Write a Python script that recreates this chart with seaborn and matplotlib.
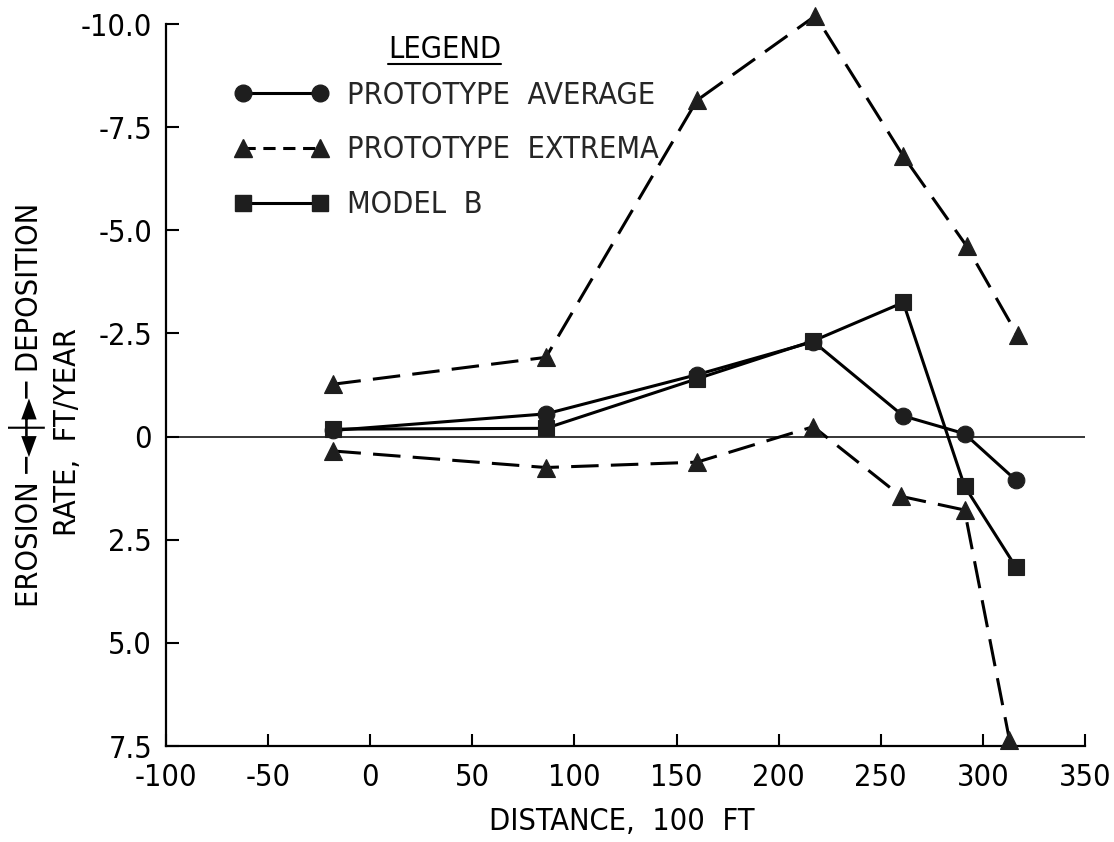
import matplotlib
matplotlib.use("Agg")
import matplotlib.pyplot as plt
from matplotlib.lines import Line2D
import seaborn as sns
import pandas as pd

# Distance along the reach (100 ft units)
distance = [-18, 86, 160, 217, 261, 291, 316]
distance_ext_hi = [-18, 86, 160, 218, 261, 292, 317]
distance_ext_lo = [-18, 86, 160, 217, 260, 291, 313]

# Rates, ft/year (negative = deposition, positive = erosion)
proto_average = [-0.15, -0.55, -1.5, -2.3, -0.5, -0.07, 1.05]
model_b = [-0.18, -0.2, -1.4, -2.32, -3.25, 1.2, 3.15]
extrema_high = [-1.27, -1.92, -8.15, -10.2, -6.8, -4.62, -2.45]
extrema_low = [0.35, 0.75, 0.62, -0.24, 1.45, 1.78, 7.35]

series_labels = ["PROTOTYPE  AVERAGE", "PROTOTYPE  EXTREMA", "MODEL  B"]

x_ticks = [-100, -50, 0, 50, 100, 150, 200, 250, 300, 350]
x_tick_labels = ["-100", "-50", "0", "50", "100", "150", "200", "250", "300", "350"]
y_ticks = [-10.0, -7.5, -5.0, -2.5, 0.0, 2.5, 5.0, 7.5]
y_tick_labels = ["-10.0", "-7.5", "-5.0", "-2.5", "0", "2.5", "5.0", "7.5"]

sns.set_theme(style="ticks")
fonts = ["DejaVu Sans", "Liberation Sans Narrow"]
plt.rcParams["font.family"] = fonts
plt.rcParams["font.stretch"] = "condensed"

INK = "black"
MARK = "#1e1e1e"
FS = 22

fig = plt.figure(figsize=(11.14, 8.42), dpi=100)
W, H = 1114, 842
ax = fig.add_axes([166 / W, 1 - 746 / H, (1085 - 166) / W, (746 - 24) / H])

ax.axhline(0, color=INK, lw=1.1, zorder=1)

def draw(xs, ys, marker, dashed):
    df = pd.DataFrame({"x": xs, "y": ys})
    kw = dict(color=INK, lw=2.2, marker=marker, markersize=12 if marker != "^" else 12.5,
              markerfacecolor=MARK, markeredgecolor=MARK, markeredgewidth=0.8,
              clip_on=False, zorder=3)
    if dashed:
        kw["dashes"] = (9, 4)
    sns.lineplot(data=df, x="x", y="y", ax=ax, sort=False, estimator=None,
                 legend=False, **kw)

draw(distance_ext_hi, extrema_high, "^", True)
draw(distance_ext_lo, extrema_low, "^", True)
draw(distance, proto_average, "o", False)
draw(distance, model_b, "s", False)

ax.set_xlim(-100, 350)
ax.set_ylim(7.5, -10.0)
ax.set_xticks(x_ticks)
ax.set_xticklabels(x_tick_labels)
ax.set_yticks(y_ticks)
ax.set_yticklabels(y_tick_labels)
ax.tick_params(axis="both", direction="in", length=9, width=1.5, color=INK,
               labelsize=FS, labelcolor=INK)
ax.tick_params(axis="x", pad=12)
ax.tick_params(axis="y", pad=10)
for lab in ax.get_xticklabels() + ax.get_yticklabels():
    lab.set_fontstretch("condensed")
for side in ("top", "right"):
    ax.spines[side].set_visible(False)
for side in ("left", "bottom"):
    ax.spines[side].set_linewidth(1.6)
    ax.spines[side].set_color(INK)
ax.set_xlabel("")
ax.set_ylabel("")

# Legend
handles = [
    Line2D([], [], color=INK, lw=2.2, marker="o", markersize=12,
           markerfacecolor=MARK, markeredgecolor=MARK),
    Line2D([], [], color=INK, lw=2.2, marker="^", markersize=12.5, dashes=(4, 2.5),
           markerfacecolor=MARK, markeredgecolor=MARK),
    Line2D([], [], color=INK, lw=2.2, marker="s", markersize=12,
           markerfacecolor=MARK, markeredgecolor=MARK),
]
ax.legend(handles, series_labels, loc="center left",
          bbox_to_anchor=(234 / W, 1 - 150 / H), bbox_transform=fig.transFigure,
          frameon=False, numpoints=2, handlelength=3.1, handletextpad=0.6,
          labelspacing=0.85, borderpad=0, borderaxespad=0,
          prop={"family": fonts, "size": FS, "stretch": "condensed"})

title = fig.text(388 / W, 1 - 58 / H, "LEGEND", fontsize=FS, color=INK,
                 ha="left", va="baseline", fontstretch="condensed")

# Axis titles
fig.text(622 / W, 1 - 822 / H, "DISTANCE,  100  FT", fontsize=FS, color=INK,
         ha="center", va="center", fontstretch="condensed")
fig.text(27 / W, 1 - 405 / H, "EROSION \u2500\u25c4\u253c\u25ba\u2500 DEPOSITION",
         fontsize=FS, color=INK, rotation=90, ha="center", va="center",
         fontstretch="condensed")
fig.text(67 / W, 1 - 432 / H, "RATE,  FT/YEAR", fontsize=FS, color=INK,
         rotation=90, ha="center", va="center", fontstretch="condensed")

# Underline the legend heading
fig.canvas.draw()
bb = title.get_window_extent().transformed(fig.transFigure.inverted())
uy = 1 - 64 / H
fig.add_artist(Line2D([bb.x0, bb.x1], [uy, uy], color=INK, lw=1.5,
                      transform=fig.transFigure))

fig.savefig("out.png", dpi=100, facecolor="white")
